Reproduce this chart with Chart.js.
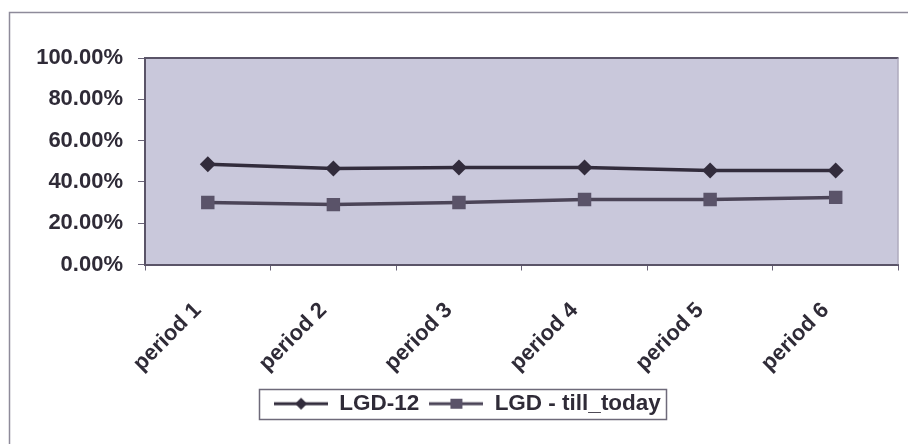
<!DOCTYPE html>
<html>
<head>
<meta charset="utf-8">
<script src="https://cdn.jsdelivr.net/npm/chart.js@4/dist/chart.umd.min.js"></script>
<style>
  html, body { margin: 0; padding: 0; background: #ffffff; }
  #wrap { width: 908px; height: 444px; position: relative; }
</style>
</head>
<body>
<div id="wrap"><canvas id="c" width="908" height="444"></canvas></div>
<script>
// Categories and series values (fractions, shown as percentages)
const periods = ['period 1', 'period 2', 'period 3', 'period 4', 'period 5', 'period 6'];
const lgd12 = [0.485, 0.465, 0.47, 0.47, 0.455, 0.455];
const lgdTillToday = [0.30, 0.29, 0.30, 0.315, 0.315, 0.325];
const seriesNames = ['LGD-12', 'LGD - till_today'];
const yTickValues = [0, 0.2, 0.4, 0.6, 0.8, 1.0];

const FONT = "'Liberation Sans', Arial, Helvetica, sans-serif";
const TEXT = '#2f2b37';
const C1 = '#322c3c';
const C2 = '#4b4457';
const C2M = '#5a5369';

// Small legend swatch: line with the series marker in the middle
function swatch(color, markColor, shape) {
  const cv = document.createElement('canvas');
  cv.width = 54; cv.height = 16;
  const g = cv.getContext('2d');
  g.strokeStyle = color; g.lineWidth = 3;
  g.beginPath(); g.moveTo(0, 8); g.lineTo(54, 8); g.stroke();
  g.fillStyle = markColor;
  g.beginPath();
  if (shape === 'diamond') {
    g.moveTo(27, 2); g.lineTo(33, 8); g.lineTo(27, 14); g.lineTo(21, 8); g.closePath();
  } else {
    g.rect(21, 3, 12, 10);
  }
  g.fill();
  return cv;
}
const sw1 = swatch(C1, C1, 'diamond');
const sw2 = swatch(C2, C2M, 'square');

// Frame, plot background and plot-area edges
const decor = {
  id: 'decor',
  beforeDraw(chart) {
    const { ctx, chartArea: a } = chart;
    ctx.save();
    ctx.fillStyle = '#ffffff';
    ctx.fillRect(0, 0, chart.width, chart.height);
    ctx.strokeStyle = '#8e8b9a';
    ctx.lineWidth = 1.5;
    ctx.beginPath();
    ctx.moveTo(9.5, 448); ctx.lineTo(9.5, 12.5); ctx.lineTo(910, 12.5);
    ctx.stroke();
    ctx.fillStyle = '#c9c8db';
    ctx.fillRect(a.left, a.top, a.right - a.left, a.bottom - a.top);
    ctx.restore();
  },
  afterDraw(chart) {
    const { ctx, chartArea: a, legend } = chart;
    ctx.save();
    ctx.strokeStyle = '#5a5468';
    ctx.lineWidth = 2;
    ctx.beginPath(); ctx.moveTo(a.left, a.top); ctx.lineTo(a.right, a.top); ctx.stroke();
    ctx.strokeStyle = '#a09cae';
    ctx.lineWidth = 1;
    ctx.beginPath(); ctx.moveTo(a.right - 0.5, a.top); ctx.lineTo(a.right - 0.5, a.bottom); ctx.stroke();
    // legend border
    const hb = legend.legendHitBoxes;
    if (hb && hb.length) {
      const first = hb[0], last = hb[hb.length - 1];
      const cy = first.top + first.height / 2;
      const x0 = first.left - 15, x1 = last.left + last.width + 5;
      ctx.strokeStyle = '#6e6a7a';
      ctx.lineWidth = 1.5;
      ctx.strokeRect(Math.round(x0) + 0.5, Math.round(cy - 15) + 0.5, Math.round(x1 - x0), 30);
    }
    ctx.restore();
  }
};

new Chart(document.getElementById('c'), {
  type: 'line',
  data: {
    labels: periods,
    datasets: [
      {
        label: seriesNames[0],
        data: lgd12,
        borderColor: C1,
        backgroundColor: C1,
        borderWidth: 3.5,
        pointStyle: 'rectRot',
        pointRadius: 8,
        pointBackgroundColor: C1,
        pointBorderWidth: 0,
        tension: 0
      },
      {
        label: seriesNames[1],
        data: lgdTillToday,
        borderColor: C2,
        backgroundColor: C2M,
        borderWidth: 3.5,
        pointStyle: 'rect',
        pointRadius: 9.5,
        pointBackgroundColor: C2M,
        pointBorderWidth: 0,
        tension: 0
      }
    ]
  },
  options: {
    responsive: false,
    animation: false,
    devicePixelRatio: 1,
    layout: { padding: { left: 34, right: 7, top: 58, bottom: 19 } },
    plugins: {
      tooltip: { enabled: false },
      legend: {
        position: 'bottom',
        labels: {
          usePointStyle: true,
          pointStyleWidth: 54,
          padding: 10,
          color: TEXT,
          font: { family: FONT, size: 22.5, weight: 'bold' },
          generateLabels() {
            return [
              { text: seriesNames[0], pointStyle: sw1, fillStyle: C1, strokeStyle: C1, lineWidth: 0, datasetIndex: 0, fontColor: TEXT },
              { text: seriesNames[1], pointStyle: sw2, fillStyle: C2, strokeStyle: C2, lineWidth: 0, datasetIndex: 1, fontColor: TEXT }
            ];
          }
        }
      }
    },
    scales: {
      x: {
        offset: true,
        afterFit(s) { s.height = 118; },
        grid: { display: true, offset: true, drawOnChartArea: false, drawTicks: true, tickLength: 6, color: '#6a6478', lineWidth: 1 },
        border: { display: true, color: '#5a5468', width: 2 },
        ticks: {
          color: TEXT,
          font: { family: FONT, size: 22, weight: 'bold' },
          minRotation: 45,
          maxRotation: 45,
          padding: 27,
          labelOffset: -10,
          autoSkip: false
        }
      },
      y: {
        min: 0,
        max: 1,
        afterFit(s) { s.width = 111; },
        afterBuildTicks(s) { s.ticks = yTickValues.map(v => ({ value: v })); },
        grid: { display: true, drawOnChartArea: false, drawTicks: true, tickLength: 7, color: '#6a6478' },
        border: { display: true, color: '#5a5468', width: 2 },
        ticks: {
          color: TEXT,
          padding: 15,
          font: { family: FONT, size: 22, weight: 'bold' },
          callback: v => (v * 100).toFixed(2) + '%'
        }
      }
    }
  },
  plugins: [decor]
});
</script>
</body>
</html>
